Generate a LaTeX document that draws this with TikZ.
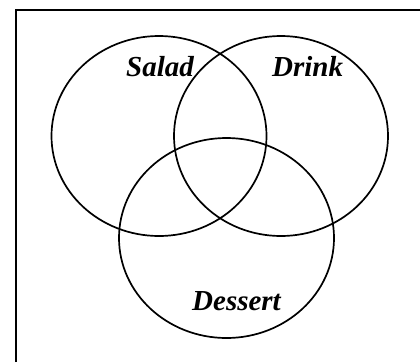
\documentclass[tikz,border=0pt]{standalone}
\usepackage{fontspec}
\setmainfont{Liberation Serif}
\begin{document}
\begin{tikzpicture}[x=1pt,y=-1pt,
  frameline/.style={line width=2.2pt},
  setline/.style={line width=1.7pt},
  setlabel/.style={anchor=base west,inner sep=0pt,font=\fontsize{29}{30}\selectfont\bfseries\itshape}]
\useasboundingbox (0,0) rectangle (420,362);
\draw[frameline] (16,362) -- (16,10) -- (420,10);
\draw[setline] (159,136) ellipse [x radius=107.5, y radius=100];
\draw[setline] (281,136) ellipse [x radius=107, y radius=100];
\draw[setline] (226.5,238) ellipse [x radius=107.5, y radius=100];
\node[setlabel] (salad) at (126,76) {Salad};
\node[setlabel] (drink) at (272,76) {Drink};
\node[setlabel] (dessert) at (192,310) {Dessert};
\end{tikzpicture}
\end{document}
